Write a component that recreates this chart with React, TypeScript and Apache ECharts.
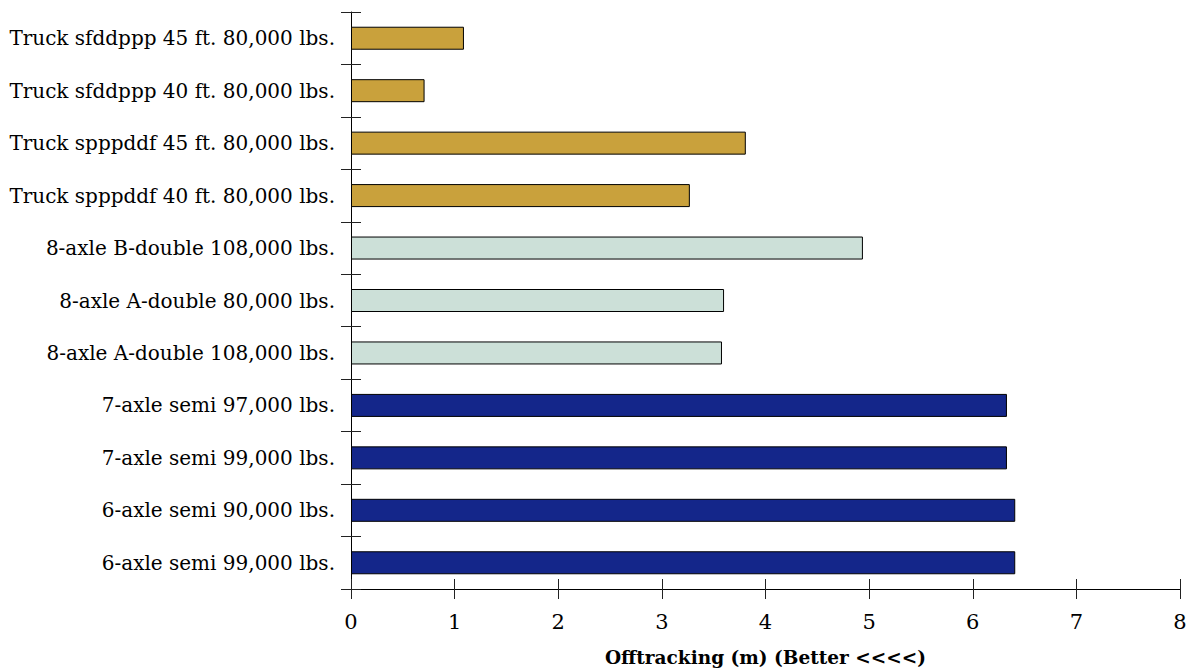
import React, { useEffect, useRef } from "react";
import * as echarts from "echarts";

const categories = [
  "6-axle semi 99,000 lbs.",
  "6-axle semi 90,000 lbs.",
  "7-axle semi 99,000 lbs.",
  "7-axle semi 97,000 lbs.",
  "8-axle A-double 108,000 lbs.",
  "8-axle A-double 80,000 lbs.",
  "8-axle B-double 108,000 lbs.",
  "Truck spppddf 40 ft. 80,000 lbs.",
  "Truck spppddf 45 ft. 80,000 lbs.",
  "Truck sfddppp 40 ft. 80,000 lbs.",
  "Truck sfddppp 45 ft. 80,000 lbs.",
];
const values = [6.41, 6.41, 6.33, 6.33, 3.58, 3.6, 4.94, 3.27, 3.81, 0.71, 1.09];
const groups = [0, 0, 0, 0, 1, 1, 1, 2, 2, 2, 2];
const groupColors = ["#14268A", "#CCE0D8", "#C9A13C"];
const xTitle = "Offtracking (m) (Better <<<<)";

const FONT = "'DejaVu Serif', serif";

export default function App() {
  const ref = useRef<HTMLDivElement>(null);
  useEffect(() => {
    document.body.style.margin = "0";
    const chart = echarts.init(ref.current!, null, { renderer: "svg" });
    const tickLen = 10;
    const axisLineStyle = { color: "#000", width: 1 };
    const tickStyle = { color: "#222", width: 1 };
    chart.setOption({
      animation: false,
      backgroundColor: "#fff",
      grid: { left: 351, right: 11, top: 12, bottom: 76 },
      xAxis: [
        {
          type: "value",
          min: 0,
          max: 8,
          interval: 1,
          position: "bottom",
          splitLine: { show: false },
          axisLine: { show: true, lineStyle: axisLineStyle },
          axisTick: { show: true, length: tickLen, lineStyle: tickStyle },
          axisLabel: { color: "#000", fontFamily: FONT, fontSize: 21, margin: 22 },
          name: xTitle,
          nameLocation: "middle",
          nameGap: 59,
          nameTextStyle: { color: "#000", fontFamily: FONT, fontSize: 18.5, fontWeight: "bold" },
        },
        {
          type: "value",
          min: 0,
          max: 8,
          interval: 1,
          position: "bottom",
          splitLine: { show: false },
          axisLine: { show: false },
          axisTick: { show: true, inside: true, length: tickLen, lineStyle: tickStyle },
          axisLabel: { show: false },
        },
      ],
      yAxis: [
        {
          type: "category",
          data: categories,
          position: "left",
          axisLine: { show: true, lineStyle: axisLineStyle },
          axisTick: { show: true, length: tickLen, lineStyle: tickStyle },
          axisLabel: { color: "#000", fontFamily: FONT, fontSize: 20, margin: 16 },
        },
        {
          type: "category",
          data: categories,
          position: "left",
          axisLine: { show: false },
          axisTick: { show: true, inside: true, length: tickLen, lineStyle: tickStyle },
          axisLabel: { show: false },
        },
      ],
      series: [
        {
          type: "bar",
          xAxisIndex: 0,
          yAxisIndex: 0,
          barWidth: 23,
          data: values.map((v, i) => ({
            value: v,
            itemStyle: { color: groupColors[groups[i]], borderColor: "#000", borderWidth: 1 },
          })),
        },
      ],
    });
    return () => chart.dispose();
  }, []);
  return <div ref={ref} style={{ width: 1191, height: 672 }} />;
}
